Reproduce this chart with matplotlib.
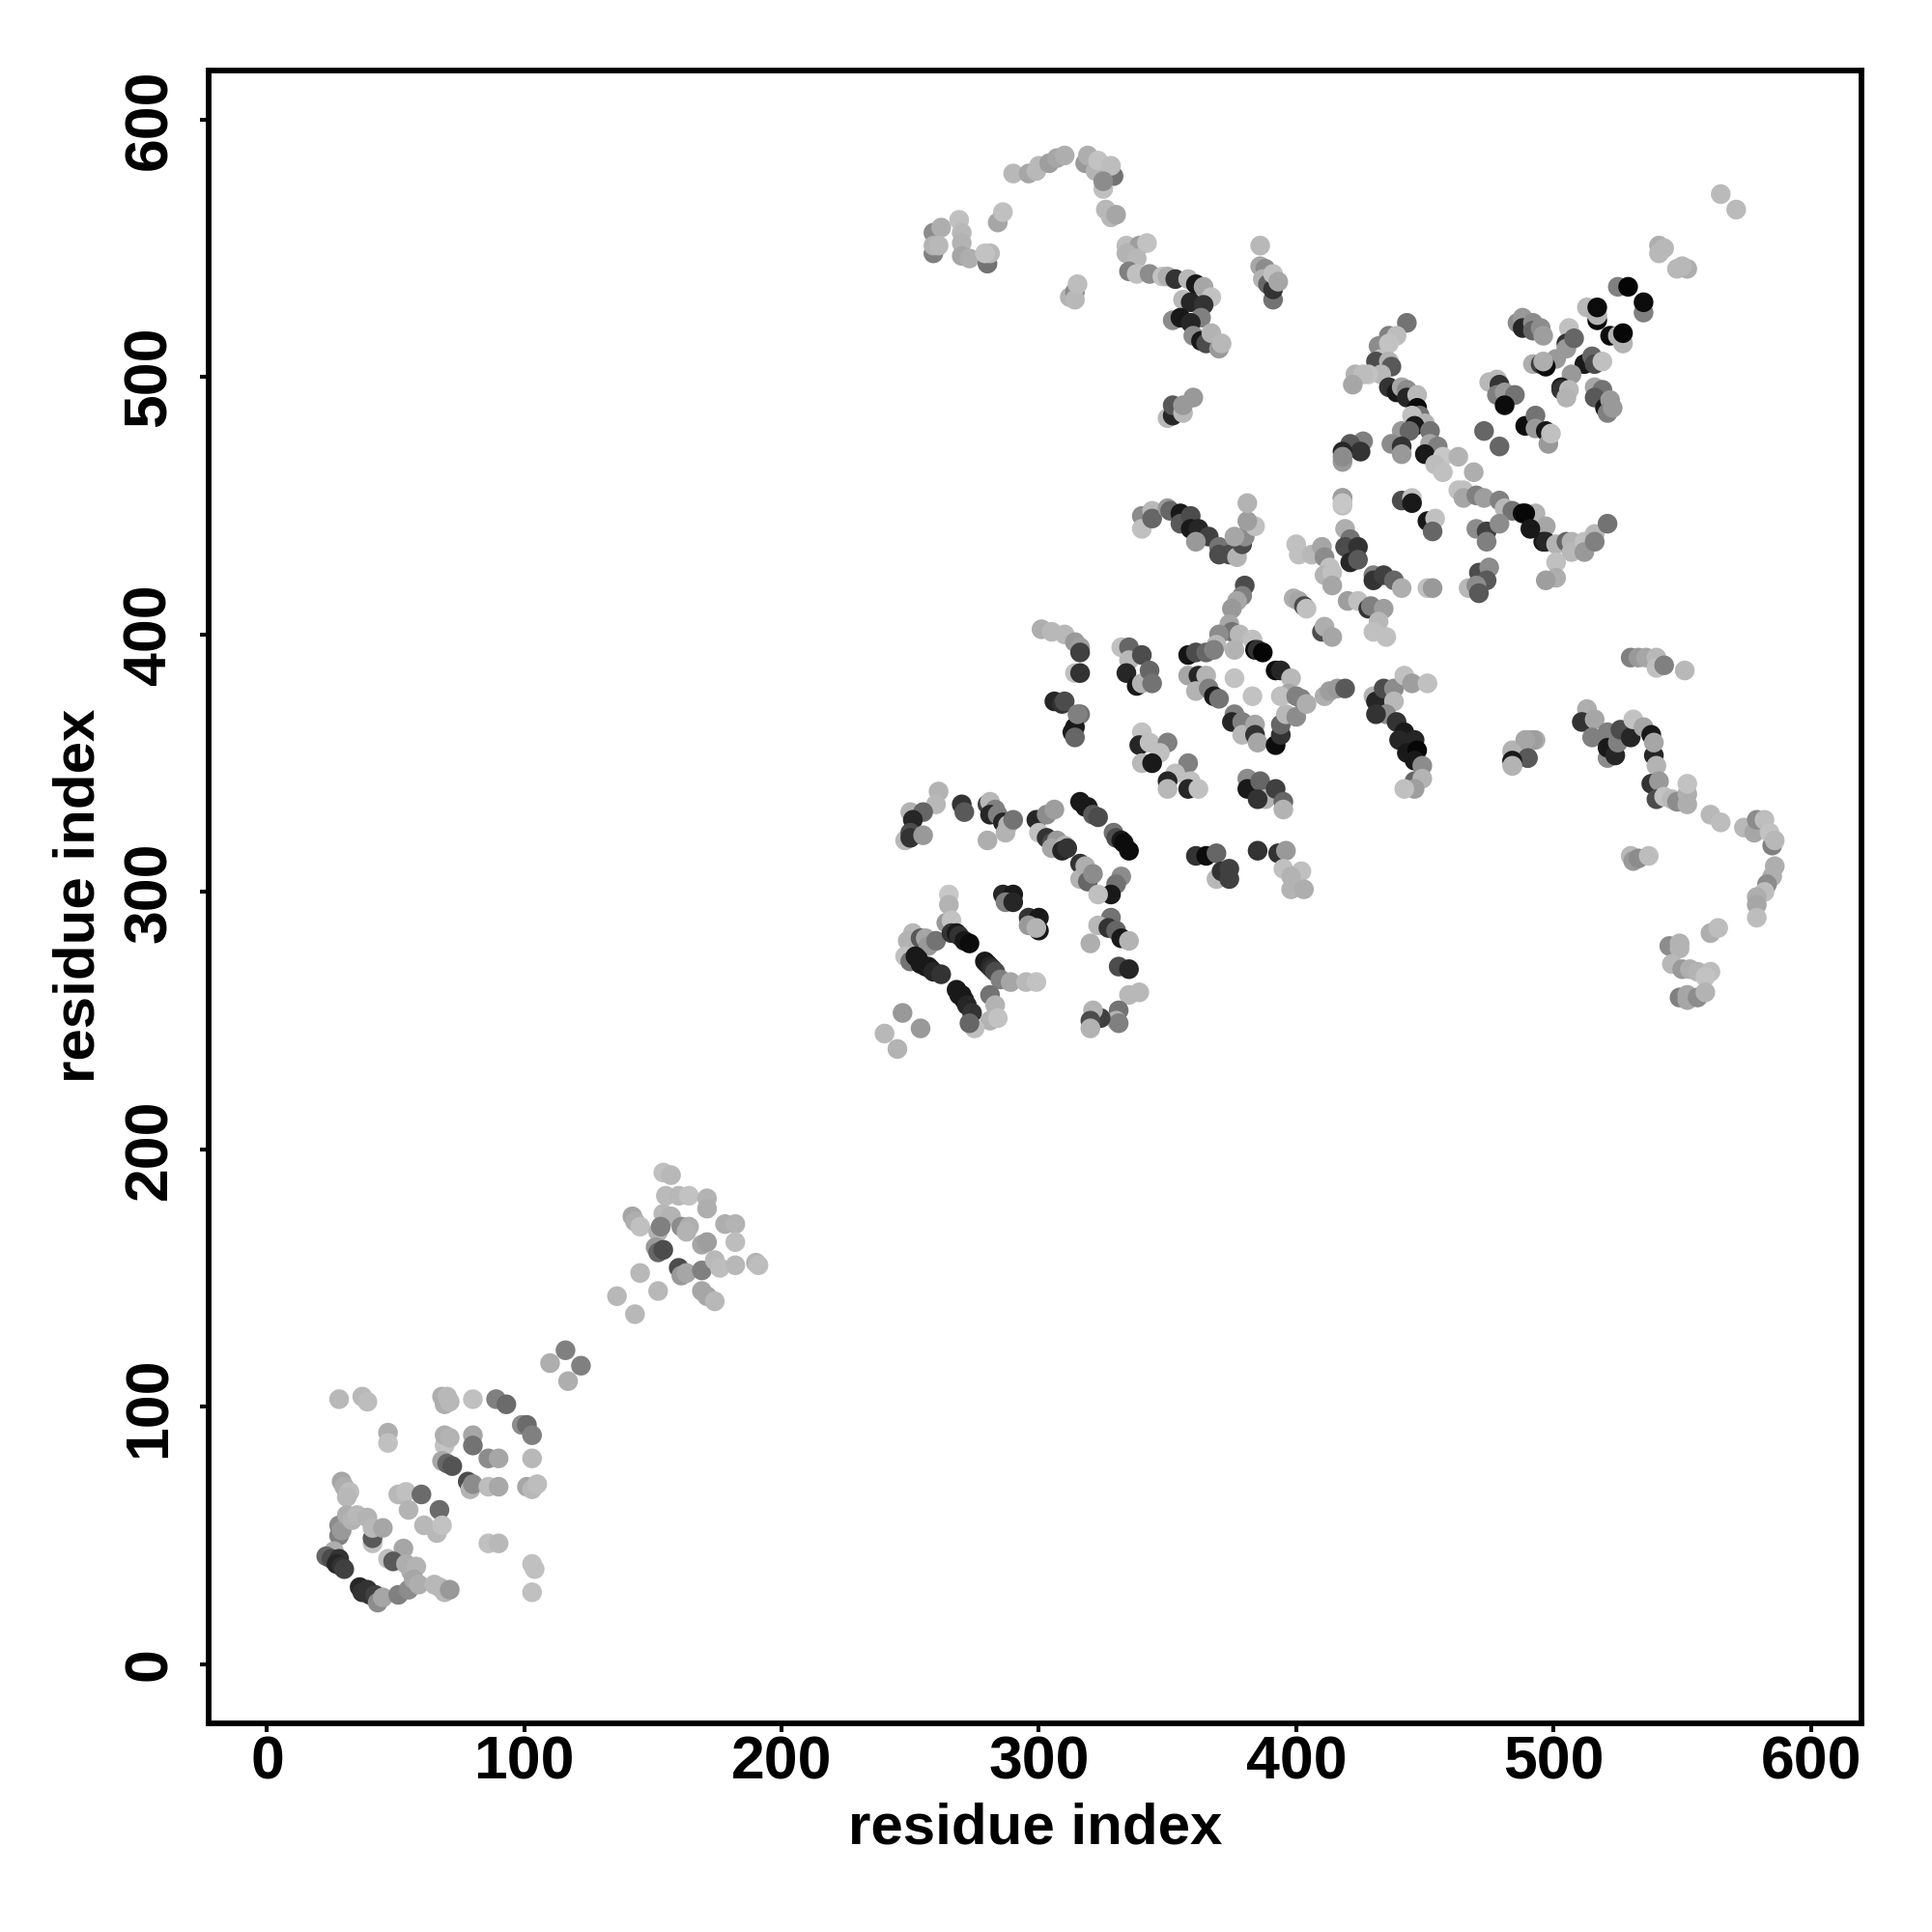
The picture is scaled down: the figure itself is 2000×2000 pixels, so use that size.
import matplotlib
matplotlib.use('Agg')
import matplotlib.pyplot as plt

#####
# Contacts: (residue i, residue j, grey level)
#####

tick_values = [0, 100, 200, 300, 400, 500, 600]

domain_low = [
    (28,103,.72),(37,104,.72),(39,102,.74),(68,104,.68),(69,101,.68),(70,104,.72),(71,102,.72),(80,103,.75),(89,103,.5),(93,101,.42),
    (99,93,.55),(101,93,.42),(103,89,.5),(47,90,.68),(47,86,.75),(69,85,.76),(69,89,.68),(71,88,.7),(80,89,.65),(80,85,.45),
    (103,80,.72),(86,80,.55),(90,80,.65),(68,79,.65),(70,78,.4),(72,77,.33),(78,71,.3),(79,68,.7),(80,70,.55),
    (86,69,.74),(90,69,.66),(101,69,.65),(103,68,.72),(105,70,.74),(29,71,.65),(30,69,.68),(32,67,.74),(31,65,.72),(51,66,.72),
    (54,67,.75),(60,66,.42),(55,60,.7),(67,60,.42),(61,54,.72),(66,51,.72),(68,54,.76),(86,47,.75),(90,47,.72),
    (103,39,.75),(104,37,.75),(103,28,.75),(28,54,.55),(28,50,.5),(29,52,.6),(31,58,.68),(33,56,.7),(35,58,.72),(39,57,.7),(41,47,.75),
    (41,49,.35),(41,53,.72),(45,53,.65),(53,45,.65),(26,44,.68),(23,42,.4),(25,41,.3),(28,41,.2),(27,39,.15),(29,38,.2),(30,37,.25),
    (47,41,.75),(49,40,.35),(54,39,.68),(56,36,.68),(58,38,.7),(36,30,.15),(37,28,.2),(39,29,.2),(40,27,.2),(42,27,.25),(43,24,.55),(45,26,.65),
    (51,27,.5),(55,29,.55),(57,33,.65),(59,31,.68),(65,31,.72),(67,30,.72),(69,28,.72),(71,29,.6),
]

domain_link = [(110,117,.68),(117,110,.68),(116,122,.5),(122,116,.5)]

domain_mid = [
    (143,136,.72),(136,143,.72),(152,145,.72),(145,152,.72),(142,174,.65),(143,172,.68),(145,170,.75),(154,191,.75),
    (157,190,.72),(155,182,.73),(160,182,.72),(164,182,.76),(171,181,.7),(171,177,.68),(154,175,.72),(157,174,.7),
    (152,168,.7),(153,170,.5),(161,170,.55),(164,170,.68),(163,168,.7),(178,171,.68),(182,171,.7),(151,162,.6),
    (152,160,.4),(154,161,.3),(160,154,.3),(161,151,.6),(163,152,.65),(169,163,.65),(171,164,.62),(169,153,.5),
    (174,157,.72),(176,154,.74),(182,164,.74),(182,155,.72),(190,156,.7),(191,155,.74),(169,145,.65),(171,143,.65),
    (174,141,.72),
]

sheet_a = [
    (240,245,.72),(245,239,.7),(247,253,.6),(254,247,.6),(251,284,.72),(249,281,.7),(248,275,.75),(250,273,.45),
    (254,282,.35),(256,282,.65),(257,279,.6),(260,281,.45),(252,275,.1),(253,274,.1),(254,272,.1),(256,271,.1),(257,271,.1),(258,270,.1),(259,269,.15),
    (262,268,.2),(265,299,.78),(265,295,.7),(264,288,.6),(266,289,.76),(266,284,.2),(268,284,.1),(269,283,.2),(271,281,.1),
    (273,280,.05),(279,273,.1),(280,272,.1),(281,271,.15),(282,270,.2),(283,269,.3),(285,266,.5),(289,265,.65),(295,265,.72),(299,265,.76),
    (268,262,.1),(269,260,.1),(270,260,.1),(271,258,.1),(272,256,.15),(274,253,.2),(281,260,.45),(283,256,.7),(281,250,.7),(284,251,.76),
    (275,247,.75),(273,249,.4),(286,299,.15),(290,299,.1),(287,296,.5),(290,296,.15),(296,290,.2),(300,290,.1),
    (296,287,.6),(300,285,.1),(299,286,.7),(261,339,.7),(260,334,.72),(250,331,.7),(255,331,.4),(251,328,.15),
    (248,320,.72),(250,323,.3),(250,321,.2),(255,322,.6),(270,334,.2),(271,331,.35),(280,334,.25),(281,335,.72),
    (283,332,.5),(281,330,.15),(284,330,.5),(286,327,.15),(288,326,.7),(287,323,.7),(290,328,.45),(280,320,.68),
    (299,328,.15),(303,330,.55),(306,332,.62),(300,323,.75),(303,321,.2),(305,319,.3),(307,320,.6),(305,317,.65),(310,318,.7),
    (309,316,.15),(311,317,.2),(316,335,.1),(318,333,.1),(319,333,.1),(321,330,.35),(323,329,.3),(329,323,.45),(330,321,.3),(332,320,.1),
    (333,319,.05),(335,316,.05),(316,311,.2),(316,305,.7),(318,310,.68),(319,304,.4),(321,307,.55),(332,306,.55),
    (330,303,.45),(328,299,.1),(323,299,.75),(328,290,.45),(323,287,.72),(327,286,.2),(330,285,.4),(332,282,.1),
    (335,281,.7),(320,280,.68),(331,271,.3),(335,270,.15),(339,261,.72),(335,260,.72),(331,254,.45),(330,250,.7),
    (331,249,.5),(324,251,.25),(321,254,.7),(320,250,.3),(320,247,.7),
]

sheet_b = [
    (301,402,.68),(305,401,.72),(310,400,.72),(314,397,.6),(316,395,.62),(316,393,.25),(314,385,.75),(316,385,.2),
    (306,374,.15),(309,373,.2),(310,374,.3),(316,369,.45),(313,362,.1),(314,364,.1),(315,369,.5),(314,360,.4),
    (332,395,.75),(335,395,.4),(335,390,.72),(340,392,.3),(334,385,.15),(338,380,.1),(340,381,.7),(343,386,.4),
    (344,381,.45),(340,362,.76),(339,357,.15),(343,358,.75),(350,358,.5),(347,354,.75),(340,350,.72),(344,350,.1),
    (358,350,.5),(353,346,.75),(350,343,.15),(350,340,.72),(359,343,.75),(358,340,.15),(362,340,.75),(381,344,.55),
    (381,340,.1),(386,343,.4),(388,336,.7),(385,336,.2),(392,340,.25),(395,335,.4),(395,332,.7),(361,314,.2),
    (365,314,.05),(369,315,.4),(369,305,.72),(371,308,.2),(374,309,.25),(374,305,.25),(385,316,.2),(393,315,.2),
    (396,316,.6),(395,309,.75),(402,308,.75),(398,306,.7),(398,301,.7),(403,301,.68),
]

ring_middle = [
    (340,446,.55),(340,441,.75),(344,448,.72),(344,445,.4),(350,449,.6),(351,448,.4),(355,447,.1),(355,443,.35),
    (359,446,.3),(359,441,.1),(362,441,.15),(366,438,.25),(361,436,.6),(370,434,.45),(370,431,.3),(374,431,.3),
    (377,430,.7),(379,435,.3),(380,438,.55),(376,438,.65),(384,442,.75),(381,444,.62),(381,451,.7),(380,419,.3),
    (379,415,.5),(377,413,.65),(375,410,.6),(374,404,.65),(375,401,.45),(378,400,.72),(370,400,.55),(369,396,.72),
    (383,398,.75),(376,394,.7),(384,394,.05),(385,394,.2),(387,393,.02),(358,392,.08),(361,393,.3),(365,393,.4),
    (368,394,.5),(358,384,.65),(362,384,.15),(365,384,.7),(361,378,.7),(366,379,.5),(368,376,.1),(370,375,.45),
    (376,383,.76),(383,376,.76),(376,369,.5),(375,366,.15),(379,366,.5),(379,361,.72),(384,365,.65),(384,361,.2),
    (385,358,.65),(392,357,.05),(394,361,.2),(394,365,.4),(396,369,.72),(400,368,.55),(392,386,.05),(394,386,.15),
    (398,383,.72),(397,377,.65),(394,376,.75),(400,376,.5),(402,375,.5),(404,373,.68),(411,376,.68),(413,378,.62),
    (416,379,.6),(419,379,.35),(430,376,.7),(431,374,.15),(434,379,.3),(438,379,.55),(438,374,.72),(442,384,.75),
    (445,381,.62),(451,381,.75),(435,369,.55),(431,369,.2),(439,366,.2),(442,362,.1),(440,359,.15),(446,359,.15),
    (443,354,.1),(447,355,.03),(446,351,.1),(449,349,.55),(446,343,.4),(449,344,.7),(446,340,.62),(442,340,.75),
    (484,349,.72),(484,351,.1),(490,352,.4),(484,355,.7),(490,359,.68),(493,359,.68),
]

ring_upper = [
    (418,453,.62),(418,450,.75),(419,441,.68),(421,437,.45),(419,434,.3),(424,434,.2),(421,428,.15),(424,429,.35),
    (400,435,.75),(401,431,.75),(406,431,.72),(410,434,.65),(411,430,.55),(413,426,.75),(411,423,.7),(414,424,.75),
    (414,419,.65),(430,423,.5),(430,421,.2),(434,423,.25),(438,421,.4),(441,418,.68),(451,418,.75),(453,418,.6),
    (399,414,.68),(401,413,.65),(403,411,.3),(404,410,.75),(410,401,.3),(411,403,.68),(414,399,.65),(420,413,.62),
    (424,413,.75),(428,410,.2),(429,411,.5),(434,410,.62),(432,405,.72),(430,401,.75),(435,399,.75),(441,452,.3),
    (445,453,.75),(445,451,.1),(451,444,.1),(454,445,.75),(453,440,.4),(471,424,.3),(475,426,.55),(474,421,.35),
    (467,418,.72),(470,419,.55),(471,416,.35),(443,521,.45),(436,516,.5),(439,516,.74),(432,512,.55),(436,513,.76),
    (433,507,.76),(431,506,.3),(436,506,.7),(437,504,.35),(433,501,.72),(428,501,.76),(423,501,.7),(426,501,.74),
    (422,497,.65),(436,496,.2),(439,494,.1),(441,496,.65),(443,495,.55),(443,492,.15),(447,493,.72),(447,488,.05),
    (448,485,.45),(445,485,.75),(450,482,.7),(446,481,.1),(452,479,.45),(441,479,.6),(444,479,.4),(437,474,.55),
    (441,473,.2),(441,470,.6),(452,474,.65),(455,473,.5),(450,470,.1),(457,469,.78),(463,469,.7),(454,466,.74),
    (457,463,.75),(469,463,.68),(426,475,.5),(421,474,.35),(425,471,.2),(418,471,.15),(418,467,.6),(418,469,.55),
    (418,453,.62),(418,451,.78),(463,456,.75),(465,456,.75),(465,453,.65),(470,454,.5),(473,453,.62),(479,452,.5),
    (481,449,.72),(484,448,.45),(488,447,.05),(493,447,.7),(489,447,.03),(497,442,.65),(491,441,.1),(496,436,.1),
    (470,441,.55),(474,440,.25),(474,436,.5),(479,443,.55),(497,436,.15),(501,435,.7),(505,436,.4),(507,436,.7),
    (507,432,.72),(512,436,.75),(512,432,.6),(516,439,.72),(516,436,.5),(521,443,.45),(501,428,.75),(501,422,.68),
    (497,421,.62),
]

top_right = [
    (565,571,.73),(571,565,.73),(541,551,.68),(541,548,.72),(543,550,.72),(548,542,.72),(552,542,.68),(550,543,.72),
    (525,535,.5),(529,535,.02),(535,525,.5),(535,529,.05),(513,527,.72),(517,522,.03),(517,524,.7),(517,527,.05),
    (522,516,.05),(525,516,.7),(527,513,.7),(527,517,.03),(486,521,.55),(488,523,.6),(488,519,.15),(492,521,.55),
    (492,518,.4),(495,519,.55),(496,516,.62),(506,519,.75),(505,513,.2),(505,511,.6),(508,515,.4),(501,507,.6),
    (492,505,.68),(495,505,.25),(497,504,.05),(496,506,.68),(512,505,.1),(515,508,.4),(516,505,.3),(519,506,.75),
    (507,501,.6),(503,496,.1),(503,495,.2),(506,495,.72),(505,492,.7),(475,498,.72),(478,499,.72),(479,497,.2),
    (478,493,.5),(481,494,.6),(485,493,.45),(481,489,.05),(516,496,.65),(519,495,.45),(516,492,.35),(520,488,.1),
    (522,491,.6),(521,486,.5),(523,488,.6),(473,479,.4),(479,473,.4),(489,481,.05),(493,485,.45),(493,480,.6),
    (497,479,.1),(498,474,.6),(499,478,.75),
]

top_left = [
    (290,579,.72),(296,579,.65),(299,580,.72),(300,582,.72),(304,583,.62),(307,585,.65),(310,586,.68),(318,583,.6),
    (319,586,.68),(322,580,.7),(323,584,.76),(329,578,.45),(328,582,.74),(325,573,.75),(325,576,.55),(326,565,.72),
    (328,562,.72),(330,563,.65),(334,551,.74),(339,551,.62),(342,552,.76),(334,548,.7),(338,546,.72),(335,541,.5),
    (338,540,.75),(343,540,.55),(348,539,.76),(350,539,.68),(353,538,.2),(358,538,.72),(361,536,.1),(364,535,.65),
    (367,531,.76),(356,530,.72),(359,529,.15),(364,528,.2),(363,523,.5),(352,522,.55),(355,523,.1),(359,521,.15),
    (360,516,.55),(363,514,.1),(365,513,.3),(367,517,.7),(370,511,.6),(371,513,.72),(386,551,.72),(386,543,.65),
    (388,542,.55),(387,538,.7),(389,536,.4),(391,530,.45),(391,534,.2),(391,540,.75),(393,537,.65),(312,531,.7),
    (314,533,.55),(314,530,.72),(315,536,.74),(259,556,.55),(262,558,.68),(259,548,.5),(259,551,.7),(261,551,.72),
    (269,561,.75),(270,556,.72),(270,552,.7),(270,547,.65),(273,546,.68),(280,544,.45),(281,548,.72),(279,548,.76),
    (284,560,.65),(286,564,.75),(350,484,.72),(352,485,.15),(352,489,.35),(356,486,.72),(356,489,.6),(360,492,.6),
]

right_arm = [
    (530,391,.5),(533,391,.6),(536,391,.65),(540,391,.72),(540,387,.75),(543,388,.5),(551,386,.72),(492,359,.62),
    (489,359,.65),(484,354,.7),(490,352,.35),(484,351,.1),(484,349,.7),(513,371,.68),(511,366,.2),(516,367,.65),
    (515,360,.5),(521,362,.5),(521,352,.55),(521,356,.1),(524,353,.15),(525,358,.5),(526,363,.3),(530,360,.15),
    (531,367,.76),(535,364,.65),(538,361,.1),(539,353,.15),(539,358,.65),(540,349,.7),(538,342,.2),(541,343,.6),
    (540,336,.3),(543,337,.76),(546,336,.72),(548,335,.55),(552,334,.68),(552,338,.68),(552,342,.76),(561,330,.72),
    (565,327,.74),(574,325,.72),(578,323,.65),(579,328,.55),(582,328,.74),(585,318,.5),(584,323,.76),(586,320,.72),
    (586,310,.68),(585,306,.68),(583,303,.55),(582,300,.74),(579,298,.68),(579,295,.65),(579,290,.74),(530,314,.72),
    (531,312,.6),(533,313,.55),(537,314,.74),(561,284,.68),(564,286,.74),(545,279,.55),(549,280,.7),(549,278,.7),
    (546,272,.72),(550,270,.6),(553,270,.68),(556,269,.7),(561,269,.74),(559,267,.76),(549,259,.5),(552,260,.65),
    (552,258,.65),(556,259,.55),(559,261,.7),
]

groups = [domain_low, domain_link, domain_mid, sheet_a, sheet_b, ring_middle, ring_upper, top_right, top_left, right_arm]

#####
# Main program
#####

plt.rcParams['font.family'] = ['Liberation Sans', 'DejaVu Sans']
plt.rcParams['font.weight'] = 'bold'

fig = plt.figure(figsize=(10, 10), dpi=200)
ax = fig.add_axes([216/2000, 1 - 1784/2000, (1927-216)/2000, (1784-73)/2000])

for group in groups:
    xs = [p[0] for p in group]
    ys = [p[1] for p in group]
    greys = [p[2] for p in group]
    ax.scatter(xs, ys, c=greys, cmap='gray', vmin=0, vmax=1, s=54, linewidths=0, zorder=2)

ax.set_xlim(-22.7, 619.7)
ax.set_ylim(-22.9, 619)
ax.set_xticks(tick_values)
ax.set_yticks(tick_values)
ax.set_xticklabels([str(v) for v in tick_values], fontsize=22.5, fontweight='bold')
ax.set_yticklabels([str(v) for v in tick_values], fontsize=22.5, fontweight='bold', rotation=90, va='center')
ax.tick_params(axis='both', length=3.2, width=1.45, color='black')
ax.tick_params(axis='x', pad=1)
ax.tick_params(axis='y', pad=8)
for side in ax.spines.values():
    side.set_linewidth(2.1)

fig.text(1072/2000, 1 - 1893/2000, 'residue index', fontsize=21.6, fontweight='bold', ha='center', va='center')
fig.text(82/2000, 1 - 927/2000, 'residue index', fontsize=21.6, fontweight='bold', ha='center', va='center', rotation=90)

fig.savefig('out.png', dpi=200)
